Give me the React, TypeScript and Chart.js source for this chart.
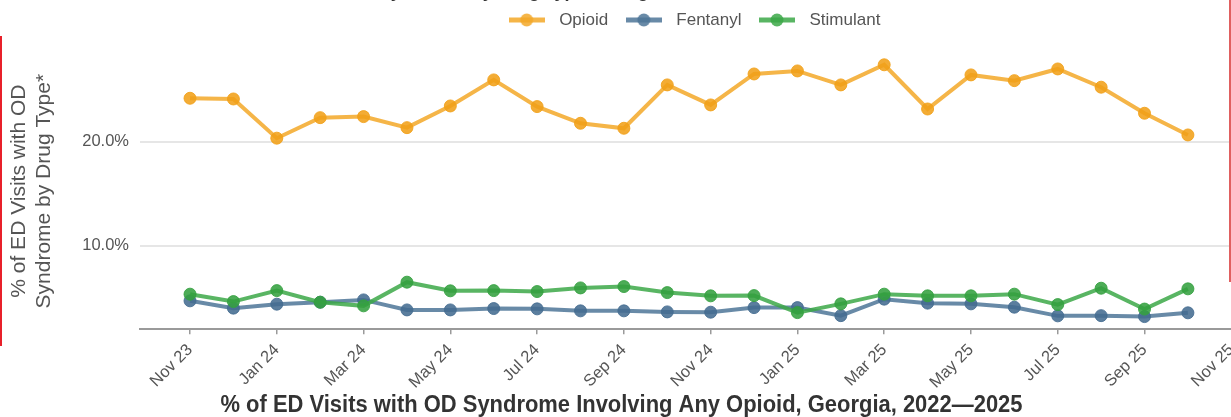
import React, { useEffect, useRef } from "react";
import { Chart, registerables } from "chart.js";

Chart.register(...registerables);

// ---- data ----
const months = [
  "Nov 23", "Dec 23", "Jan 24", "Feb 24", "Mar 24", "Apr 24", "May 24", "Jun 24",
  "Jul 24", "Aug 24", "Sep 24", "Oct 24", "Nov 24", "Dec 24", "Jan 25", "Feb 25",
  "Mar 25", "Apr 25", "May 25", "Jun 25", "Jul 25", "Aug 25", "Sep 25", "Oct 25", "Nov 25",
];
const opioid = [
  24.16, 24.09, 20.33, 22.3, 22.4, 21.34, 23.42, 25.92, 23.36, 21.76, 21.28, 25.44,
  23.52, 26.49, 26.78, 25.44, 27.37, 23.13, 26.4, 25.85, 26.97, 25.22, 22.72, 20.64,
];
const fentanyl = [
  4.73, 4.03, 4.41, 4.6, 4.82, 3.86, 3.86, 3.99, 3.96, 3.77, 3.77, 3.67,
  3.64, 4.08, 4.08, 3.31, 4.89, 4.51, 4.44, 4.12, 3.29, 3.31, 3.22, 3.58,
];
const stimulant = [
  5.37, 4.66, 5.71, 4.6, 4.25, 6.52, 5.69, 5.71, 5.62, 5.97, 6.1, 5.52,
  5.21, 5.23, 3.6, 4.44, 5.37, 5.21, 5.21, 5.37, 4.37, 5.94, 3.94, 5.88,
];
const yTickValues = [10, 20];
const seriesNames = ["Opioid", "Fentanyl", "Stimulant"];
const yTitle = ["% of ED Visits with OD", "Syndrome by Drug Type*"];
const bottomTitle = "% of ED Visits with OD Syndrome Involving Any Opioid, Georgia, 2022\u20142025";
const topTitle = "% of ED Visits with OD Syndrome by Drug Type, Georgia, 2023\u20142025";

const FONT = "'Liberation Sans', Arial, Helvetica, sans-serif";

// squeeze the bottom title to a narrow width (condensed look) via fillText maxWidth
const titleSqueeze = {
  id: "titleSqueeze",
  afterLayout(chart: any) {
    const t = chart.titleBlock;
    if (!t) return;
    const cx = (t.left + t.right) / 2;
    t.left = cx - 401;
    t.right = cx + 401;
    t.width = 802;
  },
};

export default function App() {
  const ref = useRef<HTMLCanvasElement>(null);

  useEffect(() => {
    const canvas = ref.current;
    if (!canvas) return;

    const makeMarker = (color: string) => {
      const c = document.createElement("canvas");
      c.width = 36;
      c.height = 14;
      const g = c.getContext("2d")!;
      g.strokeStyle = color;
      g.lineWidth = 5;
      g.beginPath();
      g.moveTo(0, 7);
      g.lineTo(36, 7);
      g.stroke();
      g.fillStyle = color;
      g.beginPath();
      g.arc(18, 7, 6.5, 0, Math.PI * 2);
      g.fill();
      return c;
    };

    const lineColors = ["rgba(243,168,40,0.85)", "rgba(78,117,152,0.85)", "rgba(60,168,72,0.85)"];
    const pointColors = ["rgba(241,160,25,0.88)", "rgba(68,108,145,0.88)", "rgba(52,160,64,0.88)"];
    const markers = lineColors.map((c) => makeMarker(c));
    const series = [opioid, fentanyl, stimulant];

    const chart = new Chart(canvas, {
      type: "line",
      data: {
        datasets: series.map((vals, k) => ({
          label: seriesNames[k],
          data: vals.map((v, i) => ({ x: i, y: v })),
          borderColor: lineColors[k],
          backgroundColor: pointColors[k],
          pointBackgroundColor: pointColors[k],
          pointBorderColor: pointColors[k],
          pointBorderWidth: 1,
          borderWidth: 4,
          pointRadius: 6,
          tension: 0,
          order: 2 - k,
        })),
      },
      plugins: [titleSqueeze],
      options: {
        animation: false,
        responsive: false,
        devicePixelRatio: 1,
        layout: { padding: 0, autoPadding: false },
        plugins: {
          tooltip: { enabled: false },
          legend: {
            display: true,
            position: "top",
            align: "center",
            fullSize: false,
            labels: {
              font: { family: FONT, size: 17 },
              color: "#555",
              usePointStyle: true,
              pointStyleWidth: 48,
              padding: 11.5,
              sort: (a: any, b: any) => a.datasetIndex - b.datasetIndex,
              generateLabels: (ch: any) =>
                Chart.defaults.plugins.legend.labels.generateLabels(ch).map((it: any) => ({
                  ...it,
                  pointStyle: markers[it.datasetIndex],
                })),
            },
          },
          subtitle: {
            display: true,
            text: "",
            position: "top",
            weight: 500,
            font: { size: 10, lineHeight: 1.2 },
            padding: { top: 0, bottom: 2.5 },
          } as any,
          title: {
            display: true,
            position: "bottom",
            text: bottomTitle,
            color: "#333",
            font: {
              family: FONT,
              size: 23,
              weight: "bold",
              lineHeight: 1.0,
            },
            padding: { top: 2, bottom: 0 },
          },
        },
        scales: {
          x: {
            type: "linear",
            min: -1.153,
            max: 24.27,
            afterBuildTicks: (scale: any) => {
              scale.ticks = months.map((_, i) => i).filter((i) => i % 2 === 0).map((v) => ({ value: v }));
            },
            afterFit: (scale: any) => {
              scale.height = 62.7;
              scale.paddingLeft = 0;
              scale.paddingRight = 0;
            },
            ticks: {
              autoSkip: false,
              minRotation: 45,
              maxRotation: 45,
              padding: 6,
              color: "#555",
              font: { family: FONT, size: 16.5 },
              callback: (v: any) => months[Math.round(Number(v))] ?? "",
            },
            grid: {
              display: true,
              drawOnChartArea: false,
              drawTicks: true,
              tickLength: 5,
              color: "#9a9a9a",
              lineWidth: 1.5,
            },
            border: { display: true, color: "#9a9a9a", width: 2 },
          },
          y: {
            type: "linear",
            min: 2.0,
            max: 28.5,
            afterBuildTicks: (scale: any) => {
              scale.ticks = yTickValues.map((v) => ({ value: v }));
            },
            afterFit: (scale: any) => {
              scale.width = 140;
              scale.paddingTop = 0;
              scale.paddingBottom = 0;
            },
            ticks: {
              padding: 11,
              color: "#555",
              font: { family: FONT, size: 16.5 },
              callback: (v: any) => Number(v).toFixed(1) + "%",
            },
            grid: {
              display: true,
              drawTicks: false,
              color: "#e6e6e6",
              lineWidth: 2,
            },
            border: { display: false },
            title: {
              display: true,
              text: yTitle,
              color: "#555",
              font: { family: FONT, size: 21, lineHeight: 1.19 },
              padding: { top: 7, bottom: 0 },
            },
          },
        },
      },
    } as any);

    return () => chart.destroy();
  }, []);

  return (
    <div
      style={{
        position: "fixed",
        left: 0,
        top: 0,
        width: 1231,
        height: 417,
        overflow: "hidden",
        background: "#fff",
      }}
    >
      <canvas ref={ref} width={1243} height={417} style={{ display: "block", width: 1243, height: 417 }} />
      <div
        style={{
          position: "absolute",
          left: 180,
          top: -19,
          whiteSpace: "nowrap",
          fontFamily: FONT,
          fontWeight: "bold",
          fontSize: 18,
          lineHeight: "20px",
          color: "#333",
        }}
      >
        {topTitle}
      </div>
      <div style={{ position: "absolute", left: 0, top: 36, width: 2, height: 310, background: "#e8202a" }} />
      <div style={{ position: "absolute", left: 1229, top: 0, width: 2, height: 282, background: "#e06060" }} />
    </div>
  );
}
